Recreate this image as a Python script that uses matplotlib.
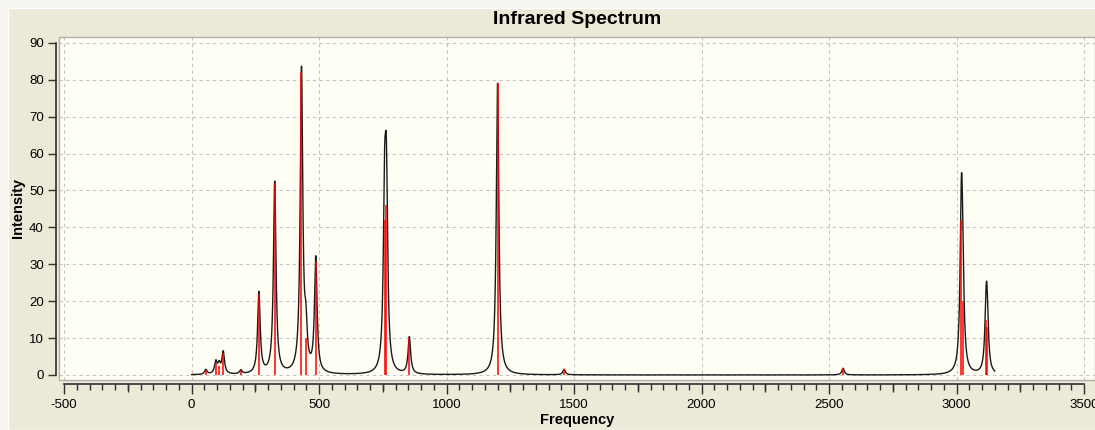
import numpy as np
import matplotlib
matplotlib.use("Agg")
import matplotlib.pyplot as plt
from matplotlib.patches import Rectangle
from matplotlib.ticker import MultipleLocator

# ---- DATA ----
# stick spectrum: frequency (cm-1) and intensity
freqs = [56, 95, 108, 124, 193, 264, 326, 431, 448, 487,
         757, 764, 854, 1200, 1461, 2555, 3019, 3024, 3116, 3120]
intensities = [1.3, 3.3, 2.5, 6.0, 1.0, 22, 52, 82, 10, 31,
               42, 46, 10, 79, 1.5, 1.8, 42, 20, 15, 13]

hwhm = 6.0                      # Lorentzian half width used for the envelope
curve_range = (0, 3150)         # envelope is only drawn over this range

x_ticks = [-500, 0, 500, 1000, 1500, 2000, 2500, 3000, 3500]
y_ticks = [0, 10, 20, 30, 40, 50, 60, 70, 80, 90]

# ---- COLOURS ----
FIG_BG = "#ECE9D8"
PLOT_BG = "#FEFEF5"
GRID = "#c4c4c4"

plt.rcParams["font.family"] = ["Liberation Sans", "DejaVu Sans"]
plt.rcParams["axes.unicode_minus"] = False

# ---- envelope: sum of Lorentzians on the sticks ----
xs = np.arange(curve_range[0], curve_range[1] + 0.5, 0.5)
env = np.zeros_like(xs)
for f, inten in zip(freqs, intensities):
    env += inten / (1 + ((xs - f) / hwhm) ** 2)

# ---- FIGURE ----
W, H = 1095, 430
fig = plt.figure(figsize=(W / 100, H / 100), dpi=100)
fig.patch.set_facecolor("#F6F5F0")
fig.patches.append(Rectangle((8 / W, 0), 1, 1 - 8 / H, transform=fig.transFigure,
                             facecolor=FIG_BG, edgecolor="#FFFFFF", lw=1, zorder=-10))

ax_left, ax_top, ax_bottom = 59, 37, 380
ax = fig.add_axes([ax_left / W, 1 - ax_bottom / H, (W - ax_left) / W, (ax_bottom - ax_top) / H])
ax.set_facecolor(PLOT_BG)

ax.plot(xs, env, color="#1a1a1a", lw=1.0, zorder=2)
ax.vlines(freqs, 0, intensities, colors="#FF0000", lw=1.1, zorder=3)

ax.set_xlim(-520, 3543)
ax.set_ylim(-1.36, 91.6)

# frame of the plot area
ax.add_patch(Rectangle((0, 0), 1, 1, transform=ax.transAxes, fill=False,
                       edgecolor="#b0b0a8", lw=1, clip_on=False, zorder=4))

for s in ["top", "right"]:
    ax.spines[s].set_visible(False)
ax.spines["left"].set_position(("outward", 2))
ax.spines["left"].set_bounds(0, 90)
ax.spines["bottom"].set_position(("outward", 3))
ax.spines["bottom"].set_bounds(-500, 3500)
for s in ["left", "bottom"]:
    ax.spines[s].set_color("#303030")
    ax.spines[s].set_linewidth(1.2)

ax.set_xticks(x_ticks)
ax.set_yticks(y_ticks)
ax.xaxis.set_minor_locator(MultipleLocator(50))
ax.tick_params(axis="y", direction="out", length=6, width=1, labelsize=9.5, pad=3, color="#303030")
ax.tick_params(axis="x", which="major", direction="out", length=7.5, width=1,
               labelsize=9.5, pad=3, color="#303030")
ax.tick_params(axis="x", which="minor", direction="out", length=4.5, width=1, color="#303030")

# medium ticks every 250
sec = ax.secondary_xaxis("bottom")
sec.spines["bottom"].set_position(("outward", 3))
sec.spines["bottom"].set_visible(False)
sec.set_xticks([t + 250 for t in x_ticks[:-1]])
sec.tick_params(axis="x", direction="out", length=6, width=1, labelbottom=False, color="#303030")

ax.grid(True, which="major", linestyle=(0, (3, 3)), color=GRID, lw=0.8)
ax.set_axisbelow(True)

fig.text((ax_left + W) / 2 / W, 1 - 19 / H, "Infrared Spectrum", ha="center", va="center",
         fontsize=14, fontweight="bold")
fig.text((ax_left + W) / 2 / W, 1 - 420 / H, "Frequency", ha="center", va="center",
         fontsize=10.5, fontweight="bold")
fig.text(18 / W, 1 - 208 / H, "Intensity", ha="center", va="center", rotation=90,
         fontsize=10.5, fontweight="bold")

fig.savefig("out.png", dpi=100, facecolor=fig.get_facecolor())
